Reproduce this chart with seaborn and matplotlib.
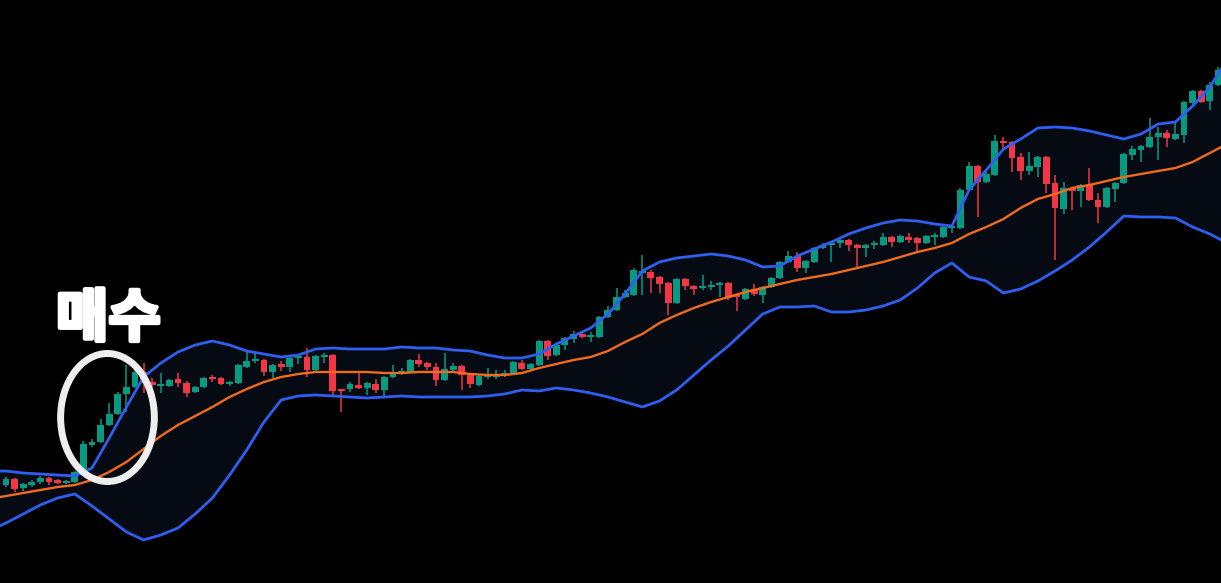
import matplotlib
matplotlib.use("Agg")
import matplotlib.pyplot as plt
import matplotlib.patheffects as pe
import seaborn as sns
import pandas as pd
from matplotlib.patches import Ellipse

# candle data (price units, one candle per session)
opens = [98, 104, 95, 98, 101, 105, 103, 100, 101, 111,
         138, 141, 158, 169, 189, 196, 211, 201, 197, 197,
         204, 200, 191, 196, 205, 205, 199, 200, 216, 222,
         223, 211, 219, 216, 225, 226, 213, 226, 228, 193,
         194, 198, 195, 199, 193, 206, 210, 211, 223, 220,
         216, 203, 213, 217, 208, 198, 206, 206, 208, 210,
         220, 214, 218, 242, 228, 238, 244, 249, 246, 246,
         266, 273, 286, 288, 310, 311, 306, 300, 280, 304,
         297, 295, 296, 298, 300, 288, 284, 294, 288, 296,
         305, 321, 327, 315, 321, 335, 338, 340, 343, 338,
         335, 338, 338, 346, 341, 346, 345, 340, 346, 346,
         355, 355, 393, 417, 401, 408, 442, 441, 426, 412,
         416, 426, 400, 374, 395, 392, 398, 383, 376, 394,
         400, 428, 433, 436, 446, 450, 444, 448, 480, 492,
         482, 498]
closes = [104, 94, 99, 101, 105, 101, 100, 102, 111, 139,
          141, 158, 169, 189, 196, 211, 200, 198, 198, 203,
          200, 190, 196, 205, 204, 199, 200, 218, 222, 223,
          211, 218, 216, 225, 226, 213, 227, 227, 192, 192,
          199, 195, 200, 193, 206, 211, 211, 223, 219, 216,
          203, 214, 217, 208, 199, 207, 208, 208, 210, 221,
          214, 219, 242, 227, 238, 245, 249, 246, 247, 266,
          273, 286, 290, 313, 312, 305, 299, 280, 304, 297,
          294, 296, 297, 300, 285, 286, 294, 289, 296, 305,
          321, 327, 315, 322, 335, 338, 340, 343, 338, 335,
          338, 339, 346, 341, 347, 343, 340, 347, 348, 356,
          356, 393, 417, 401, 409, 442, 440, 425, 412, 417,
          426, 399, 375, 395, 392, 398, 383, 376, 395, 400,
          429, 434, 437, 446, 450, 445, 449, 481, 492, 481,
          498, 513]
highs = [106, 105, 100, 103, 107, 106, 104, 103, 112, 142,
         144, 164, 180, 191, 218, 213, 220, 205, 210, 204,
         210, 202, 197, 206, 208, 206, 202, 219, 231, 230,
         224, 219, 222, 226, 228, 235, 228, 230, 229, 194,
         201, 210, 201, 204, 207, 218, 215, 224, 229, 221,
         220, 230, 220, 218, 209, 208, 215, 213, 213, 222,
         223, 220, 243, 243, 239, 246, 252, 250, 251, 267,
         277, 295, 293, 315, 328, 313, 307, 301, 305, 305,
         298, 308, 302, 301, 301, 289, 295, 299, 297, 306,
         322, 332, 331, 323, 336, 340, 341, 345, 344, 339,
         339, 342, 350, 347, 348, 350, 346, 348, 350, 357,
         358, 395, 421, 418, 413, 448, 446, 442, 430, 431,
         427, 427, 408, 401, 396, 399, 415, 390, 396, 401,
         430, 437, 438, 465, 456, 453, 460, 482, 493, 493,
         501, 516]
lows = [96, 91, 92, 96, 99, 98, 99, 99, 100, 110,
        136, 140, 157, 168, 171, 195, 190, 196, 190, 196,
        196, 186, 190, 195, 201, 198, 197, 199, 215, 220,
        207, 205, 212, 211, 219, 206, 210, 220, 186, 171,
        191, 194, 188, 190, 186, 205, 208, 210, 216, 213,
        197, 202, 212, 193, 195, 197, 204, 204, 206, 209,
        213, 213, 217, 223, 227, 233, 240, 245, 241, 245,
        265, 272, 285, 287, 288, 290, 290, 268, 279, 293,
        288, 293, 293, 286, 283, 272, 283, 287, 280, 295,
        304, 320, 311, 310, 320, 334, 321, 335, 332, 316,
        326, 334, 337, 336, 340, 340, 331, 339, 338, 345,
        350, 354, 392, 366, 400, 407, 435, 411, 403, 408,
        406, 390, 323, 369, 373, 376, 382, 360, 375, 381,
        399, 423, 421, 435, 423, 436, 443, 440, 476, 480,
        473, 497]

# bollinger bands read every second session
band_idx = list(range(-2, 143, 2))
upper = [112, 112, 110, 109, 108, 107, 115, 145, 176, 206,
         220, 231, 238, 242, 238, 232, 229, 226, 228, 234,
         235, 234, 234, 234, 236, 235, 235, 233, 232, 228,
         225, 225, 229, 239, 247, 255, 269, 289, 312, 321,
         325, 327, 329, 327, 323, 316, 317, 327, 334, 341,
         349, 355, 360, 363, 362, 359, 357, 393, 413, 434,
         444, 455, 456, 455, 452, 448, 444, 449, 459, 461,
         477, 496, 523]
middle = [84, 87, 90, 93, 96, 98, 103, 111, 121, 134,
          147, 158, 167, 176, 186, 194, 201, 206, 209, 211,
          211, 211, 211, 210, 210, 211, 211, 211, 209, 208,
          208, 210, 215, 219, 223, 226, 232, 241, 249, 260,
          268, 275, 281, 286, 291, 295, 299, 303, 306, 309,
          313, 317, 321, 326, 331, 335, 340, 349, 356, 364,
          375, 384, 389, 395, 398, 402, 406, 409, 412, 415,
          421, 430, 439]
lower = [52, 60, 69, 78, 85, 89, 77, 64, 51, 43,
         48, 55, 69, 85, 108, 133, 161, 183, 187, 188,
         187, 186, 185, 186, 187, 186, 186, 186, 186, 187,
         189, 193, 192, 195, 193, 190, 186, 181, 176, 182,
         193, 208, 223, 237, 253, 269, 276, 276, 277, 271,
         271, 273, 277, 283, 295, 310, 320, 306, 302, 290,
         294, 302, 312, 323, 336, 351, 367, 366, 366, 365,
         356, 349, 340]

GREEN = "#089981"
RED = "#f23645"
BLUE = "#2f5ff0"
ORANGE = "#f26b1d"

candles = pd.DataFrame({"open": opens, "high": highs, "low": lows, "close": closes})
candles["idx"] = range(len(candles))
candles["up"] = candles["close"] >= candles["open"]
bands = pd.DataFrame({"idx": band_idx, "upper": upper, "middle": middle, "lower": lower})

sns.set_theme(style="dark", rc={"axes.facecolor": "black", "figure.facecolor": "black"})
plt.rcParams["font.family"] = ["Noto Sans CJK KR", "DejaVu Sans"]

fig = plt.figure(figsize=(12.21, 5.83), dpi=100)
ax = fig.add_axes([0, 0, 1, 1])
ax.set_facecolor("black")

# band background
ax.fill_between(bands["idx"], bands["lower"], bands["upper"], color="#060a12", zorder=1)

# candles
colors = [GREEN if u else RED for u in candles["up"]]
ax.vlines(candles["idx"], candles["low"], candles["high"], colors=colors, linewidth=1.1, zorder=2)
body_lo = candles[["open", "close"]].min(axis=1)
body_h = (candles["close"] - candles["open"]).abs().clip(lower=1.6)
ax.bar(candles["idx"], body_h, bottom=body_lo, width=0.8, color=colors, linewidth=0, zorder=3)

# band lines
sns.lineplot(data=bands, x="idx", y="upper", color=BLUE, linewidth=2.0, sort=False, estimator=None, ax=ax, zorder=4)
sns.lineplot(data=bands, x="idx", y="lower", color=BLUE, linewidth=2.0, sort=False, estimator=None, ax=ax, zorder=4)
sns.lineplot(data=bands, x="idx", y="middle", color=ORANGE, linewidth=1.7, sort=False, estimator=None, ax=ax, zorder=4)

# buy marker
ax.add_patch(Ellipse((11.8, 165.5), width=10.9, height=128, fill=False,
                     edgecolor="#eeeeee", linewidth=5.0, zorder=5))
ax.text(11.9, 264, "매수", color="white", fontsize=41, fontweight="black",
        ha="center", va="center", zorder=6,
        path_effects=[pe.withStroke(linewidth=3, foreground="white")])

ax.set_xlim(-0.7, 141.3)
ax.set_ylim(0, 583)
ax.axis("off")

fig.savefig("out.png", dpi=100, facecolor="black")
